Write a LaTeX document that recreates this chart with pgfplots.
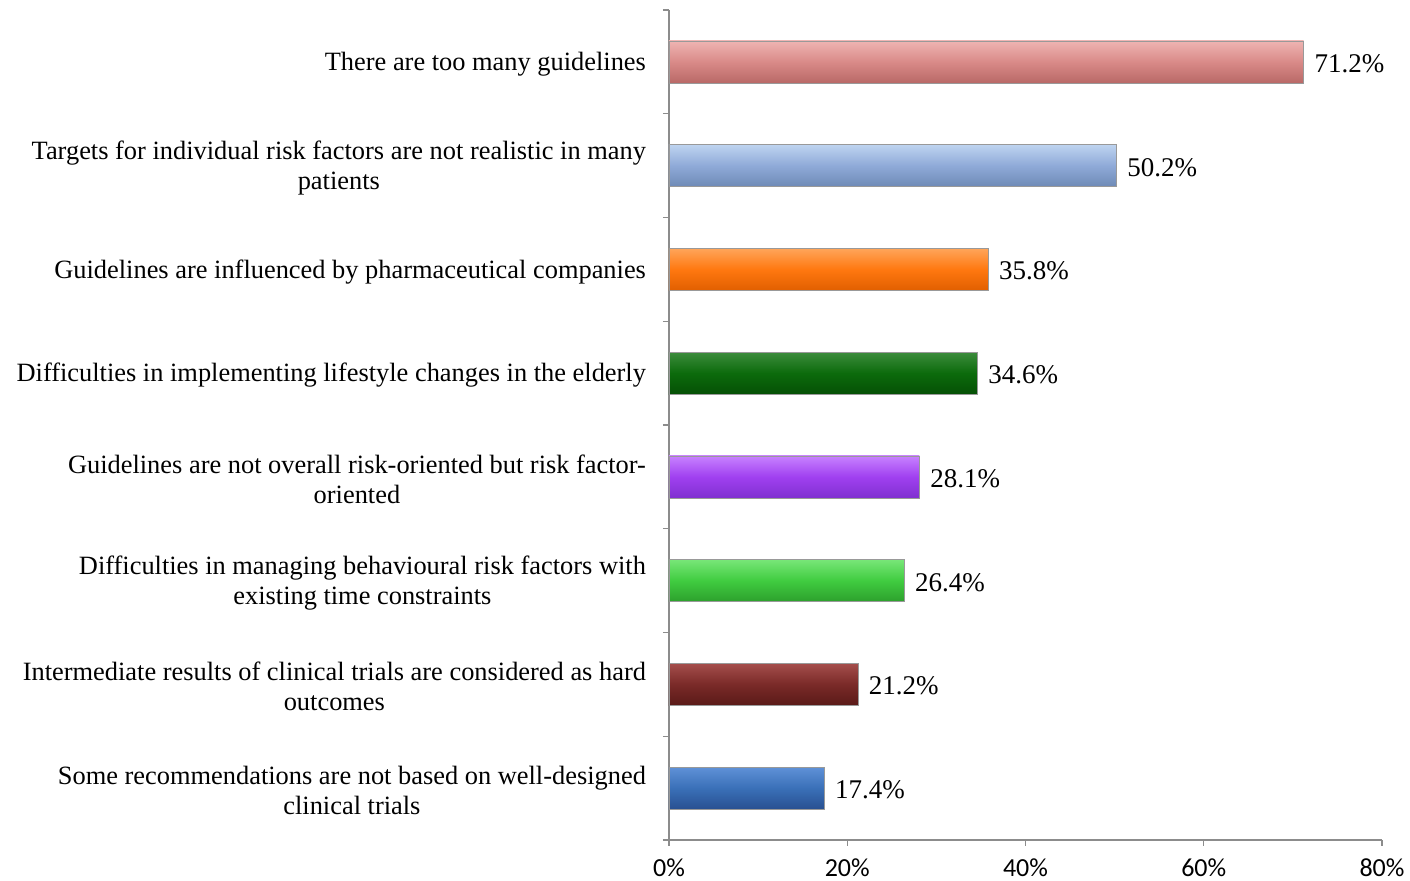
\documentclass[border=0pt]{standalone}
\usepackage{pgfplots}
\pgfplotsset{compat=1.18}
\usepackage{fontspec}
\setmainfont{Liberation Serif}
\newfontfamily\carlito{Carlito}
\definecolor{axgray}{HTML}{8C8C8C}
\begin{document}
\begin{tikzpicture}
\useasboundingbox (-334.5pt,-20.5pt) rectangle (370.5pt,420pt);
\begin{axis}[
  anchor=south west, at={(0,0)},
  scale only axis,
  width=356.5pt, height=415pt,
  xmin=0, xmax=80, ymin=-0.5, ymax=7.5,
  xbar, bar width=21pt, bar shift=0pt,
  axis lines*=left,
  axis line style={axgray, line width=0.7pt},
  tick align=outside,
  xtick={0,20,40,60,80},
  xticklabels={0\%,20\%,40\%,60\%,80\%},
  xticklabel style={font=\carlito\fontsize{13}{15}\selectfont, yshift=-3pt},
  xtick style={axgray, line width=0.6pt},
  major tick length=3pt,
  ytick={0,1,2,3,4,5,6,7},
  yticklabels={
    {Some recommendations are not based on well-designed\\clinical trials},
    {Intermediate results of clinical trials are considered as hard\\outcomes},
    {Difficulties in managing behavioural risk factors with\\existing time constraints},
    {Guidelines are not overall risk-oriented but risk factor-\\oriented},
    {Difficulties in implementing lifestyle changes in the elderly},
    {Guidelines are influenced by pharmaceutical companies},
    {Targets for individual risk factors are not realistic in many\\patients},
    {There are too many guidelines}},
  yticklabel style={align=center, font=\fontsize{13.2}{15}\selectfont, xshift=-5pt, yshift=-1.2pt},
  ytick style={draw=none},
  extra y ticks={-0.5,0.5,1.5,2.5,3.5,4.5,5.5,6.5,7.5},
  extra y tick labels={},
  extra y tick style={ytick style={draw=axgray, line width=0.6pt}},
  nodes near coords,
  point meta=explicit symbolic,
  every node near coord/.append style={font=\fontsize{13.5}{15}\selectfont, black, anchor=west, xshift=2pt, yshift=-0.8pt},
  clip=false,
]
\addplot[draw=black!40, line width=0.3pt, top color={rgb,255:red,238;green,180;blue,178}, bottom color={rgb,255:red,185;green,105;blue,103}, middle color={rgb,255:red,217;green,138;blue,136}] coordinates {(71.2,7) [71.2\%]};
\addplot[draw=black!40, line width=0.3pt, top color={rgb,255:red,190;green,212;blue,240}, bottom color={rgb,255:red,110;green,138;blue,182}, middle color={rgb,255:red,143;green,170;blue,216}] coordinates {(50.2,6) [50.2\%]};
\addplot[draw=black!40, line width=0.3pt, top color={rgb,255:red,255;green,165;blue,90}, bottom color={rgb,255:red,225;green,95;blue,0}, middle color={rgb,255:red,255;green,120;blue,16}] coordinates {(35.8,5) [35.8\%]};
\addplot[draw=black!40, line width=0.3pt, top color={rgb,255:red,60;green,140;blue,60}, bottom color={rgb,255:red,5;green,80;blue,5}, middle color={rgb,255:red,12;green,107;blue,12}] coordinates {(34.6,4) [34.6\%]};
\addplot[draw=black!40, line width=0.3pt, top color={rgb,255:red,200;green,130;blue,255}, bottom color={rgb,255:red,128;green,48;blue,208}, middle color={rgb,255:red,160;green,64;blue,240}] coordinates {(28.1,3) [28.1\%]};
\addplot[draw=black!40, line width=0.3pt, top color={rgb,255:red,120;green,230;blue,120}, bottom color={rgb,255:red,45;green,160;blue,45}, middle color={rgb,255:red,64;green,204;blue,64}] coordinates {(26.4,2) [26.4\%]};
\addplot[draw=black!40, line width=0.3pt, top color={rgb,255:red,165;green,78;blue,76}, bottom color={rgb,255:red,90;green,26;blue,24}, middle color={rgb,255:red,122;green,42;blue,40}] coordinates {(21.2,1) [21.2\%]};
\addplot[draw=black!40, line width=0.3pt, top color={rgb,255:red,95;green,145;blue,215}, bottom color={rgb,255:red,40;green,80;blue,145}, middle color={rgb,255:red,58;green,112;blue,184}] coordinates {(17.4,0) [17.4\%]};
\end{axis}
\end{tikzpicture}
\end{document}
